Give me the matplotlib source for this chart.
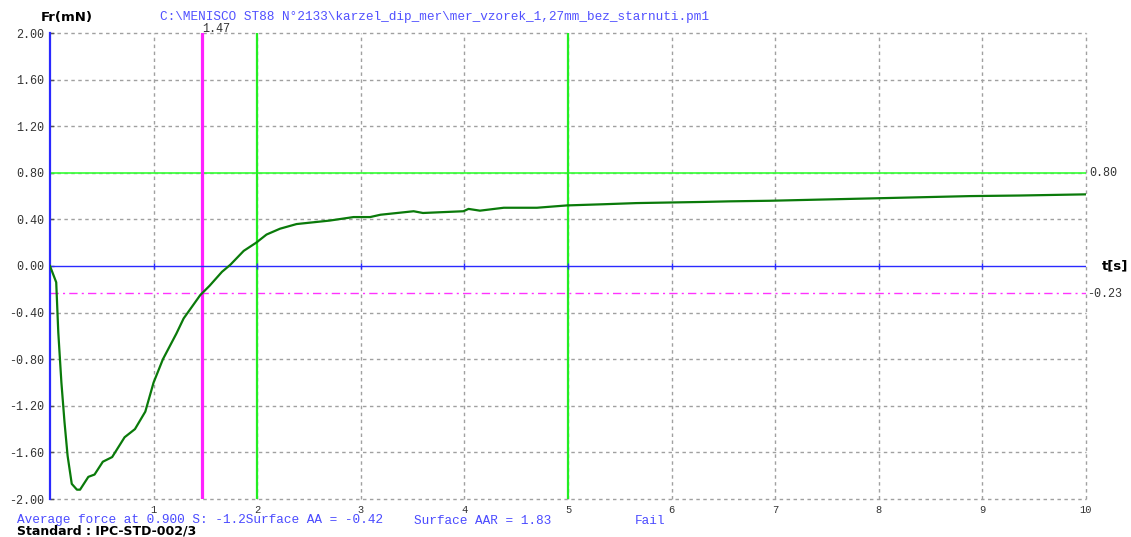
import matplotlib
matplotlib.use("Agg")
import matplotlib.pyplot as plt

t = [0, 0.06, 0.08, 0.11, 0.14, 0.17, 0.21, 0.26, 0.29, 0.37, 0.43, 0.51, 0.60,
     0.72, 0.82, 0.92, 1.00, 1.09, 1.22, 1.29, 1.45, 1.54, 1.66, 1.74, 1.87, 1.99,
     2.09, 2.22, 2.38, 2.54, 2.70, 2.93, 3.09, 3.19, 3.51, 3.60, 3.99, 4.04, 4.15,
     4.38, 4.70, 4.99, 5.34, 5.66, 5.98, 6.31, 6.56, 6.95, 7.43, 7.92, 8.40, 8.88,
     9.36, 10.0]
force = [0, -0.14, -0.57, -1.0, -1.34, -1.63, -1.87, -1.92, -1.92, -1.81, -1.79,
         -1.68, -1.64, -1.47, -1.40, -1.25, -1.0, -0.80, -0.58, -0.45, -0.25, -0.17,
         -0.05, 0.01, 0.13, 0.20, 0.27, 0.32, 0.36, 0.375, 0.39, 0.42, 0.42, 0.44,
         0.47, 0.455, 0.47, 0.49, 0.475, 0.50, 0.50, 0.52, 0.53, 0.54, 0.545, 0.55,
         0.555, 0.56, 0.57, 0.58, 0.59, 0.60, 0.605, 0.615]

yticks = [2.0, 1.6, 1.2, 0.8, 0.4, 0.0, -0.4, -0.8, -1.2, -1.6, -2.0]
xticks = [1, 2, 3, 4, 5, 6, 7, 8, 9, 10]
t_cross = 1.47      # magenta marker
f_cross = -0.23
f_ref = 0.80
t_green = [2, 5]

header = r"C:\MENISCO ST88 N°2133\karzel_dip_mer\mer_vzorek_1,27mm_bez_starnuti.pm1"

W, H = 1131, 537
fig = plt.figure(figsize=(W / 100, H / 100), dpi=100)
ax = fig.add_axes([50 / W, 1 - 499 / H, (1086 - 50) / W, (499 - 33) / H])
ax.set_xlim(0, 10)
ax.set_ylim(-2, 2)
for s in ax.spines.values():
    s.set_visible(False)

grid_kw = dict(color="#a0a0a0", lw=1.0, dashes=(2.5, 2.5), zorder=1, clip_on=False)
for y in yticks:
    if y != 0:
        ax.axhline(y, **grid_kw)
for x in xticks:
    ax.axvline(x, **grid_kw)

blue = "#2a2aff"
ax.axvline(0, color=blue, lw=1.6, zorder=3, clip_on=False)
ax.axhline(0, color=blue, lw=1.0, zorder=3)
ax.plot(xticks[:-1], [0] * (len(xticks) - 1), ls="none", marker="|",
        color=blue, ms=4, zorder=3)

ax.axhline(f_ref, color="#33ff33", lw=1.2, zorder=2)
ax.axhline(f_cross, color="#ff33ff", lw=1.0, dashes=(6, 3, 1.5, 3), zorder=2)
for x in t_green:
    ax.axvline(x, color="#22ee22", lw=1.6, zorder=2)
ax.axvline(t_cross, color="#ff22ff", lw=2.3, zorder=2)

ax.plot(t, force, color="#0a7a0a", lw=1.6, zorder=4)

mono = "Liberation Mono"
ax.set_yticks(yticks)
ax.set_yticklabels(["%.2f" % v for v in yticks], family=mono, fontsize=8.5,
                   color="#333333")
ax.set_xticks(xticks)
ax.set_xticklabels([str(v) for v in xticks], family=mono, fontsize=7.5,
                   color="#333333")
ax.tick_params(axis="y", length=3, width=1, direction="in", pad=4, color="#555555")
ax.tick_params(axis="x", length=0, pad=4.5)

# texts around the plot
fig.text(41 / W, 1 - 18 / H, "Fr(mN)", fontsize=9.5, fontweight="bold",
         va="center", ha="left")
fig.text(160 / W, 1 - 17 / H, header, family=mono, fontsize=9.2, color="#5050ff",
         va="center", ha="left")
fig.text(202 / W, 1 - 29 / H, "%.2f" % t_cross, family=mono, fontsize=8.5,
         color="#333333", va="center", ha="left")
fig.text(1089 / W, 1 - 173 / H, "%.2f" % f_ref, family=mono, fontsize=8.5,
         color="#333333", va="center", ha="left")
fig.text(1087 / W, 1 - 294 / H, "%.2f" % f_cross, family=mono, fontsize=8.5,
         color="#333333", va="center", ha="left")
fig.text(1102 / W, 1 - 266 / H, "t[s]", fontsize=9.5, fontweight="bold",
         va="center", ha="left")

bcol = "#4a4aff"
fig.text(17 / W, 1 - 520.5 / H, "Average force at 0.900 S: -1.2Surface AA = -0.42",
         family=mono, fontsize=9.2, color=bcol, va="center", ha="left")
fig.text(414 / W, 1 - 520.5 / H, "Surface AAR = 1.83", family=mono, fontsize=9.2,
         color=bcol, va="center", ha="left")
fig.text(635 / W, 1 - 520.5 / H, "Fail", family=mono, fontsize=9.2, color=bcol,
         va="center", ha="left")
fig.text(17 / W, 1 - 531.5 / H, "Standard : IPC-STD-002/3", fontsize=9,
         fontweight="bold", color="black", va="center", ha="left")

fig.savefig("out.png", dpi=100)
